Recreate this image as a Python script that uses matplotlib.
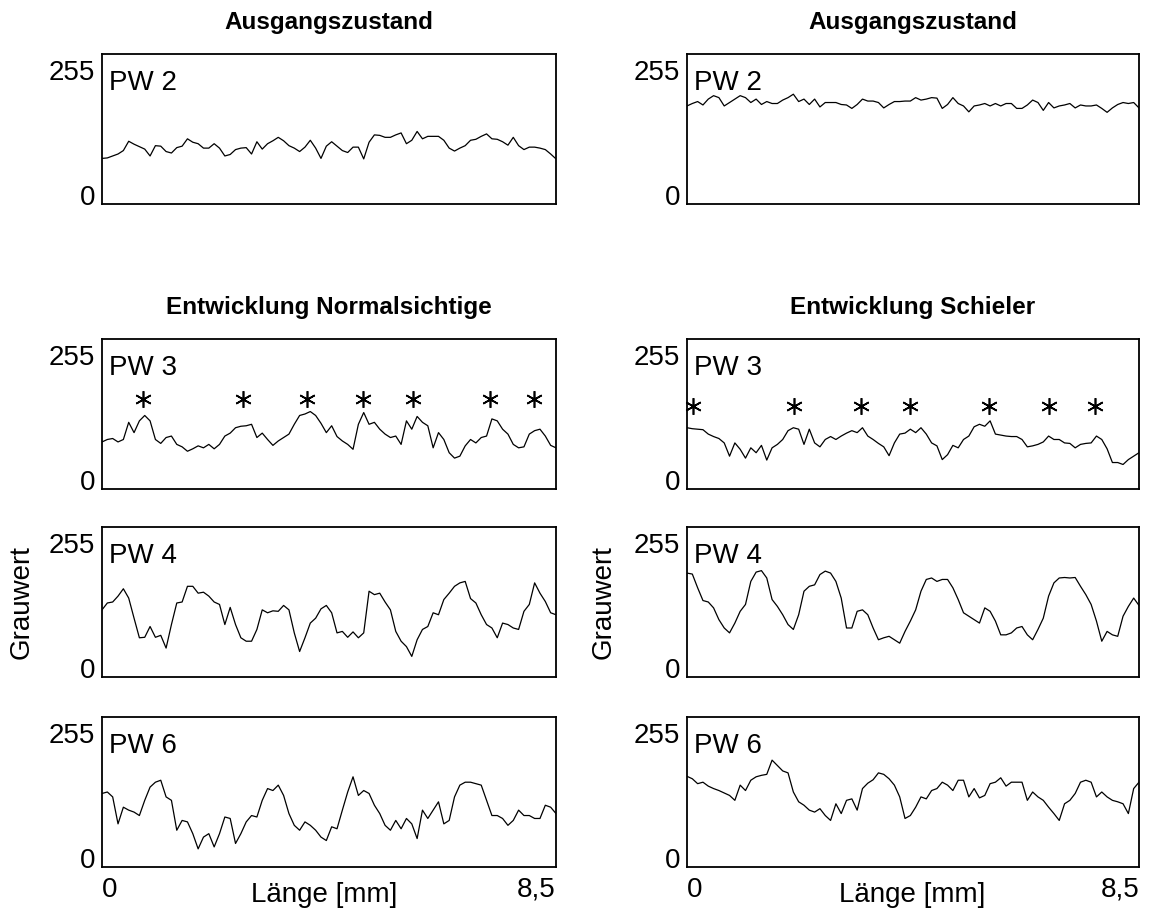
import numpy as np
import matplotlib.pyplot as plt

plt.rcParams['font.family'] = ['Liberation Sans', 'DejaVu Sans']

# Grauwertprofile entlang der Messstrecke (0,1 mm Raster)
laenge = np.linspace(0, 8.5, 86)

pw2_normal = [75, 76, 80, 84, 91, 110, 104, 99, 94, 80,
              101, 100, 89, 86, 97, 100, 115, 108, 105, 96,
              96, 105, 96, 80, 83, 93, 96, 97, 84, 109,
              94, 105, 111, 118, 111, 101, 96, 89, 98, 112,
              96, 75, 100, 109, 100, 91, 87, 98, 98, 74,
              108, 123, 122, 118, 118, 123, 127, 105, 112, 130,
              115, 120, 120, 120, 112, 96, 90, 96, 101, 112,
              114, 120, 125, 115, 114, 109, 102, 118, 101, 93,
              98, 98, 96, 93, 84, 74]

pw2_schieler = [182, 187, 191, 184, 196, 203, 199, 182, 189, 196,
                203, 199, 189, 196, 185, 191, 187, 187, 194, 199,
                206, 191, 196, 185, 196, 180, 189, 189, 189, 185,
                184, 177, 185, 196, 192, 192, 189, 178, 185, 191,
                191, 192, 192, 199, 194, 196, 199, 198, 177, 185,
                199, 187, 182, 170, 182, 184, 187, 182, 187, 182,
                187, 187, 177, 177, 184, 194, 189, 173, 189, 178,
                182, 184, 187, 178, 184, 182, 182, 184, 177, 169,
                178, 185, 189, 187, 189, 178]

pw3_normal = [78, 83, 85, 78, 83, 118, 97, 121, 132, 121,
              83, 75, 87, 90, 73, 68, 59, 64, 70, 66,
              73, 64, 73, 90, 96, 107, 110, 111, 114, 87,
              96, 83, 71, 80, 87, 94, 114, 132, 135, 140,
              132, 116, 97, 111, 89, 80, 73, 63, 114, 138,
              114, 118, 104, 94, 87, 90, 73, 121, 104, 130,
              118, 111, 66, 97, 83, 56, 45, 49, 70, 83,
              76, 87, 90, 125, 121, 104, 94, 73, 66, 68,
              94, 101, 104, 90, 71, 66]

pw3_schieler = [107, 105, 104, 103, 94, 89, 85, 76, 49, 76,
                63, 45, 66, 56, 71, 41, 66, 73, 83, 101,
                107, 104, 73, 104, 76, 68, 83, 89, 83, 90,
                96, 101, 97, 107, 90, 83, 75, 68, 50, 76,
                94, 96, 104, 97, 107, 94, 76, 70, 42, 52,
                71, 66, 83, 90, 109, 114, 110, 121, 94, 92,
                90, 89, 89, 83, 68, 70, 73, 78, 90, 83,
                83, 76, 75, 66, 73, 75, 76, 90, 83, 64,
                36, 36, 32, 42, 49, 56]

pw4_normal = [119, 133, 135, 147, 162, 143, 102, 62, 63, 85,
              63, 67, 41, 89, 133, 135, 167, 167, 153, 155,
              147, 135, 130, 89, 124, 89, 62, 55, 55, 79,
              119, 113, 117, 116, 128, 119, 72, 34, 62, 92,
              102, 121, 128, 113, 72, 75, 63, 74, 62, 72,
              157, 150, 153, 135, 119, 75, 55, 44, 24, 58,
              79, 85, 113, 109, 140, 153, 167, 174, 177, 142,
              133, 109, 89, 82, 62, 92, 89, 82, 79, 116,
              130, 174, 153, 136, 113, 109]

pw4_schieler = [194, 192, 164, 138, 135, 123, 99, 82, 72, 92,
                116, 130, 177, 196, 199, 184, 140, 126, 109, 89,
                79, 109, 157, 167, 170, 191, 198, 194, 177, 143,
                82, 82, 116, 119, 109, 82, 58, 62, 65, 58,
                51, 75, 96, 119, 157, 181, 184, 177, 181, 181,
                164, 140, 113, 106, 99, 92, 123, 116, 96, 68,
                68, 72, 82, 85, 68, 58, 79, 102, 147, 174,
                184, 185, 184, 185, 167, 150, 130, 96, 55, 75,
                68, 65, 106, 126, 143, 128]

pw6_normal = [132, 135, 125, 70, 104, 98, 94, 87, 118, 145,
              155, 159, 125, 118, 57, 77, 74, 50, 19, 43,
              50, 23, 50, 84, 81, 30, 50, 74, 87, 84,
              118, 142, 138, 149, 128, 91, 67, 57, 74, 67,
              57, 43, 36, 64, 60, 98, 135, 166, 128, 138,
              132, 108, 91, 67, 57, 77, 60, 81, 70, 40,
              98, 81, 98, 115, 70, 77, 125, 149, 155, 155,
              152, 149, 118, 87, 87, 81, 67, 77, 98, 87,
              87, 81, 81, 108, 104, 91]

pw6_schieler = [167, 162, 152, 155, 147, 142, 138, 133, 128, 118,
                149, 138, 159, 166, 169, 171, 200, 189, 178, 174,
                135, 115, 108, 98, 94, 101, 87, 77, 111, 91,
                118, 121, 98, 142, 153, 160, 174, 171, 162, 149,
                125, 81, 87, 104, 125, 121, 138, 142, 155, 149,
                138, 159, 159, 125, 142, 123, 128, 152, 155, 164,
                147, 155, 155, 155, 118, 135, 125, 118, 104, 91,
                77, 111, 118, 132, 155, 159, 155, 125, 135, 125,
                118, 115, 111, 91, 142, 155]

# markierte Maxima (Position in mm, Hoehe als Grauwert)
stern_normal = [0.77, 2.64, 3.83, 4.89, 5.83, 7.26, 8.08]
stern_schieler = [0.12, 2.02, 3.27, 4.20, 5.67, 6.80, 7.67]
stern_hoehe = [166, 152]

titel = [['Ausgangszustand', 'Ausgangszustand'],
         ['Entwicklung Normalsichtige', 'Entwicklung Schieler']]
pw_namen = ['PW 2', 'PW 3', 'PW 4', 'PW 6']
profile = [[pw2_normal, pw2_schieler],
           [pw3_normal, pw3_schieler],
           [pw4_normal, pw4_schieler],
           [pw6_normal, pw6_schieler]]

W, H = 1149, 911
fig = plt.figure(figsize=(W / 100, H / 100), dpi=100)

spalten = [(102, 454), (687, 452)]   # linke Kante, Breite in px
zeilen = [54, 339, 527, 717]         # obere Kante in px
hoehe = 150

for z, oben in enumerate(zeilen):
    for s, (links, breite) in enumerate(spalten):
        ax = fig.add_axes([links / W, 1 - (oben + hoehe) / H, breite / W, hoehe / H])
        ax.plot(laenge, profile[z][s], color='black', lw=0.9)
        ax.set_xlim(0, 8.5)
        ax.set_ylim(-18, 288)
        for sp in ax.spines.values():
            sp.set_linewidth(1.3)
        ax.set_yticks([0, 255])
        ax.set_yticklabels(['0', '255'])
        ax.tick_params(length=0, labelsize=20, pad=5)
        ax.text(0.015, 0.76, pw_namen[z], transform=ax.transAxes,
                fontsize=20, va='baseline', ha='left')

        if z < 2:
            ax.set_title(titel[z][s], fontsize=17.5, fontweight='bold', pad=18)
        if z == 1:
            sx = stern_normal if s == 0 else stern_schieler
            ax.plot(sx, [stern_hoehe[s]] * len(sx), linestyle='none',
                    marker=(6, 2, 0), markersize=12, mew=1.2,
                    color='black', clip_on=False)
        if z == 2:
            ax.text(-0.176 if s == 0 else -0.184, 0.5, 'Grauwert',
                    transform=ax.transAxes, rotation=90, fontsize=20,
                    ha='center', va='center')
        if z == 3:
            ax.set_xticks([0, 8.5])
            ax.set_xticklabels(['0', '8,5'])
            lab = ax.get_xticklabels()
            lab[0].set_ha('left')
            lab[1].set_ha('right')
            ax.tick_params(axis='x', pad=7)
            ax.text(0.489 if s == 0 else 0.498, -0.19, 'Länge [mm]',
                    transform=ax.transAxes, fontsize=20,
                    ha='center', va='center')
        else:
            ax.set_xticks([])

fig.savefig('out.png', dpi=100)
